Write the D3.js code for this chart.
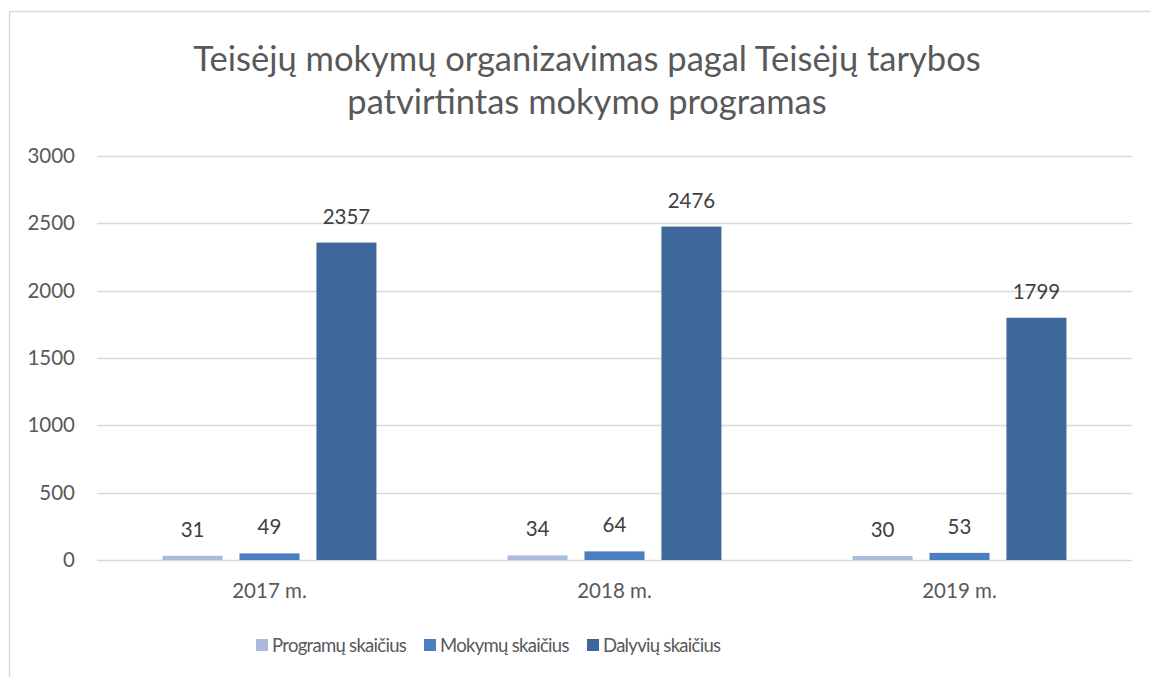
<!DOCTYPE html>
<html>
<head>
<meta charset="utf-8">
<script src="https://cdn.jsdelivr.net/npm/d3@7"></script>
<style>
  body { margin: 0; background: #fff; }
  svg { display: block; font-family: Lato, "Open Sans", sans-serif; }
</style>
</head>
<body>
<svg id="chart" width="1150" height="677"></svg>
<script>
// chart data
var years = ["2017 m.", "2018 m.", "2019 m."];
var seriesNames = ["Programų skaičius", "Mokymų skaičius", "Dalyvių skaičius"];
var programos = [31, 34, 30];
var mokymai = [49, 64, 53];
var dalyviai = [2357, 2476, 1799];
var yTicks = [0, 500, 1000, 1500, 2000, 2500, 3000];
var colors = ["#a9badb", "#4a7ebf", "#3e6899"];

var svg = d3.select("#chart");
var W = 1150, H = 677;
var m = {left: 97, right: 18, top: 156, bottom: 117};

// border of chart area
svg.append("rect")
  .attr("x", 9.5).attr("y", 11.5)
  .attr("width", W).attr("height", H)
  .attr("fill", "none").attr("stroke", "#d9d9d9").attr("stroke-width", 1.5);

// title
var title = svg.append("text")
  .attr("text-anchor", "middle")
  .attr("fill", "#595959")
  .style("font-size", "34.5px");
title.append("tspan").attr("x", 587).attr("y", 71).text("Teisėjų mokymų organizavimas pagal Teisėjų tarybos");
title.append("tspan").attr("x", 587).attr("y", 114).text("patvirtintas mokymo programas");

var x0 = d3.scaleBand().domain(years).range([m.left, W - m.right]);
var x1 = d3.scaleBand().domain(d3.range(3))
  .range([0, x0.bandwidth() * 0.62]).paddingInner(0.22);
var y = d3.scaleLinear().domain([0, 3000]).range([H - m.bottom, m.top]);

// gridlines
svg.append("g").selectAll("line").data(yTicks).enter().append("line")
  .attr("x1", m.left).attr("x2", W - m.right)
  .attr("y1", function(d) { return Math.round(y(d)) + 0.5; })
  .attr("y2", function(d) { return Math.round(y(d)) + 0.5; })
  .attr("stroke", "#d9d9d9").attr("stroke-width", 1.5);

// y tick labels
svg.append("g").selectAll("text").data(yTicks).enter().append("text")
  .attr("x", 75).attr("y", function(d) { return y(d) + 7; })
  .attr("text-anchor", "end")
  .attr("fill", "#595959").style("font-size", "20.5px")
  .text(function(d) { return d; });

// x labels
svg.append("g").selectAll("text").data(years).enter().append("text")
  .attr("x", function(d) { return x0(d) + x0.bandwidth() / 2; })
  .attr("y", 598).attr("text-anchor", "middle")
  .attr("fill", "#595959").style("font-size", "20.5px")
  .text(function(d) { return d; });

var table = years.map(function(yr, i) {
  return {year: yr, values: [programos[i], mokymai[i], dalyviai[i]]};
});
var offset = (x0.bandwidth() - x1.range()[1]) / 2;

var groups = svg.selectAll("g.grp").data(table).enter().append("g")
  .attr("class", "grp")
  .attr("transform", function(d) { return "translate(" + (x0(d.year) + offset) + ",0)"; });

groups.selectAll("rect").data(function(d) { return d.values; }).enter().append("rect")
  .attr("x", function(d, i) { return x1(i); })
  .attr("width", x1.bandwidth())
  .attr("y", function(d) { return y(d); })
  .attr("height", function(d) { return y(0) - y(d); })
  .attr("fill", function(d, i) { return colors[i]; });

groups.selectAll("text").data(function(d) { return d.values; }).enter().append("text")
  .attr("x", function(d, i) { return x1(i) + x1.bandwidth() / 2; })
  .attr("y", function(d) { return y(d) - 19; })
  .attr("text-anchor", "middle")
  .attr("fill", "#404040").style("font-size", "20.5px")
  .text(function(d) { return d; });

// legend
var legX = [256, 424, 587];
var leg = svg.selectAll("g.leg").data(seriesNames).enter().append("g")
  .attr("class", "leg")
  .attr("transform", function(d, i) { return "translate(" + legX[i] + ",639)"; });
leg.append("rect").attr("width", 12).attr("height", 12)
  .attr("fill", function(d, i) { return colors[i]; });
leg.append("text").attr("x", 16).attr("y", 6).attr("dy", "0.36em")
  .attr("fill", "#595959").style("font-size", "18.5px")
  .style("letter-spacing", "-0.7px")
  .text(function(d) { return d; });
</script>
</body>
</html>
